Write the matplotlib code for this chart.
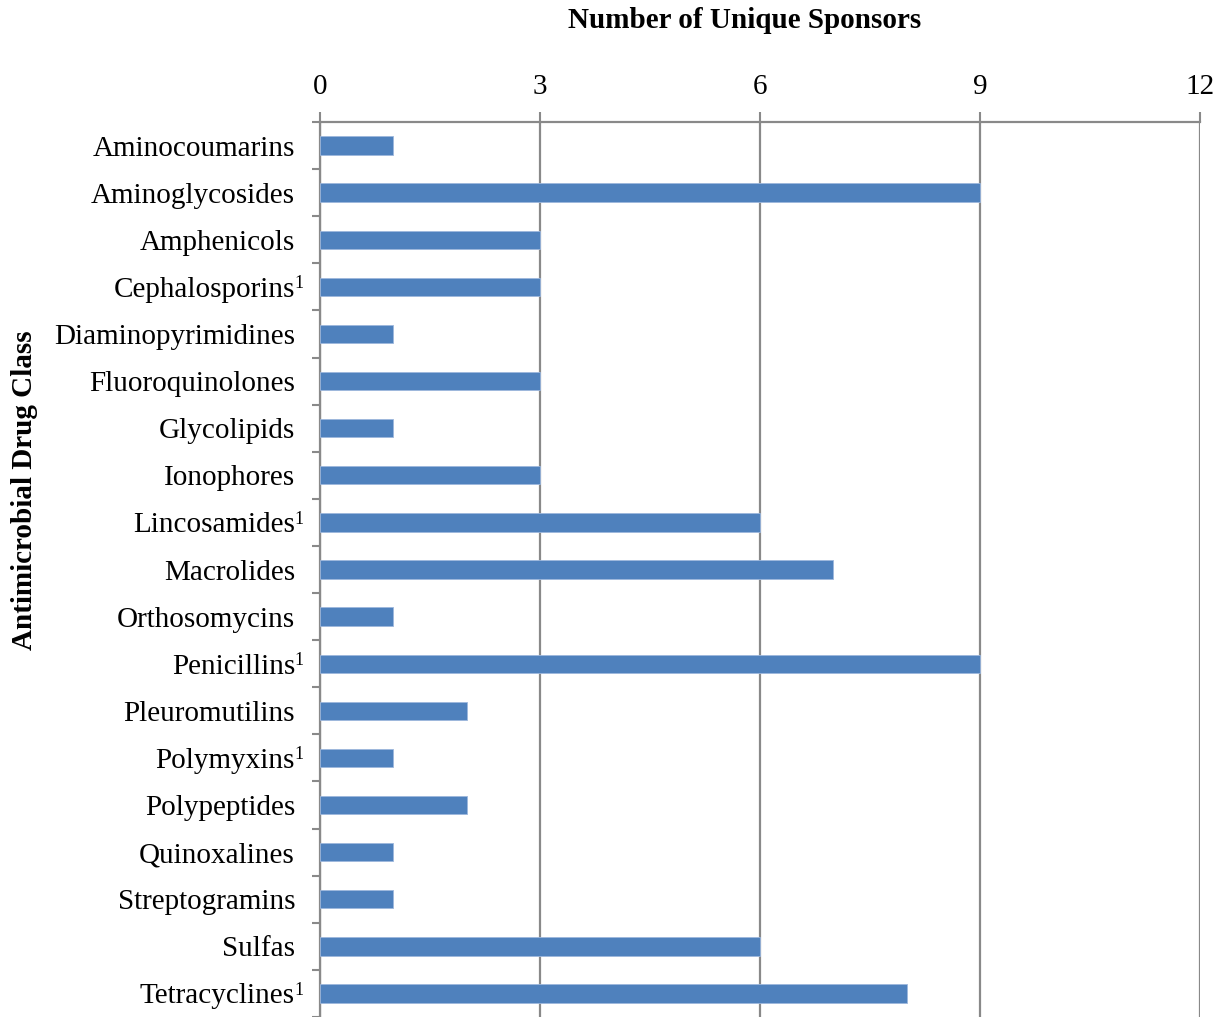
import numpy as np
import matplotlib
matplotlib.use("Agg")
import matplotlib.pyplot as plt
import matplotlib.transforms as mtransforms

classes = ["Aminocoumarins", "Aminoglycosides", "Amphenicols", "Cephalosporins",
           "Diaminopyrimidines", "Fluoroquinolones", "Glycolipids", "Ionophores",
           "Lincosamides", "Macrolides", "Orthosomycins", "Penicillins",
           "Pleuromutilins", "Polymyxins", "Polypeptides", "Quinoxalines",
           "Streptogramins", "Sulfas", "Tetracyclines"]
sponsors = [1, 9, 3, 3, 1, 3, 1, 3, 6, 7, 1, 9, 2, 1, 2, 1, 1, 6, 8]
footnoted = ["Cephalosporins", "Lincosamides", "Penicillins", "Polymyxins", "Tetracyclines"]
x_ticks = [0, 3, 6, 9, 12]

plt.rcParams["font.family"] = ["Liberation Serif", "DejaVu Serif"]
grey = "#898989"
fs = 21

fig = plt.figure(figsize=(12.23, 10.17), dpi=100)
ax = fig.add_axes([320 / 1223, 0.0, 880 / 1223, 1 - 122 / 1017])

y = np.arange(len(classes))
ax.barh(y, sponsors, height=0.39, color="#4F81BD", edgecolor="#9DB7DC", linewidth=0.6, zorder=3)

ax.set_xlim(0, 12)
ax.set_ylim(len(classes) - 0.5, -0.5)
ax.xaxis.tick_top()
ax.set_xticks(x_ticks)
ax.set_xticklabels([str(t) for t in x_ticks], fontsize=fs)
ax.tick_params(axis="x", length=7, width=1.5, color=grey, pad=9)
ax.grid(axis="x", color=grey, linewidth=1.6, zorder=0)
ax.set_axisbelow(True)

ax.set_yticks(y)
ax.set_yticklabels(classes, fontsize=fs)
ax.tick_params(axis="y", which="major", length=0, pad=18)
ax.set_yticks(np.arange(len(classes) + 1) - 0.5, minor=True)
ax.tick_params(axis="y", which="minor", length=6, width=1.5, color=grey)

for s in ["bottom", "right"]:
    ax.spines[s].set_visible(False)
for s in ["top", "left"]:
    ax.spines[s].set_color(grey)
    ax.spines[s].set_linewidth(1.6)

# superscript footnote markers after some class names
trans = mtransforms.blended_transform_factory(ax.transAxes, ax.transData)
for i, name in enumerate(classes):
    if name in footnoted:
        ax.annotate("1", xy=(0, i), xycoords=trans, xytext=(-26, 3),
                    textcoords="offset pixels", fontsize=13, ha="left", va="center")

fig.text(744.5 / 1223, 1 - 21 / 1017, "Number of Unique Sponsors", fontsize=fs,
         fontweight="bold", ha="center", va="center")
fig.text(25 / 1223, 1 - 490 / 1017, "Antimicrobial Drug Class", fontsize=fs,
         fontweight="bold", ha="center", va="center", rotation=90)

fig.savefig("out.png", dpi=100)
